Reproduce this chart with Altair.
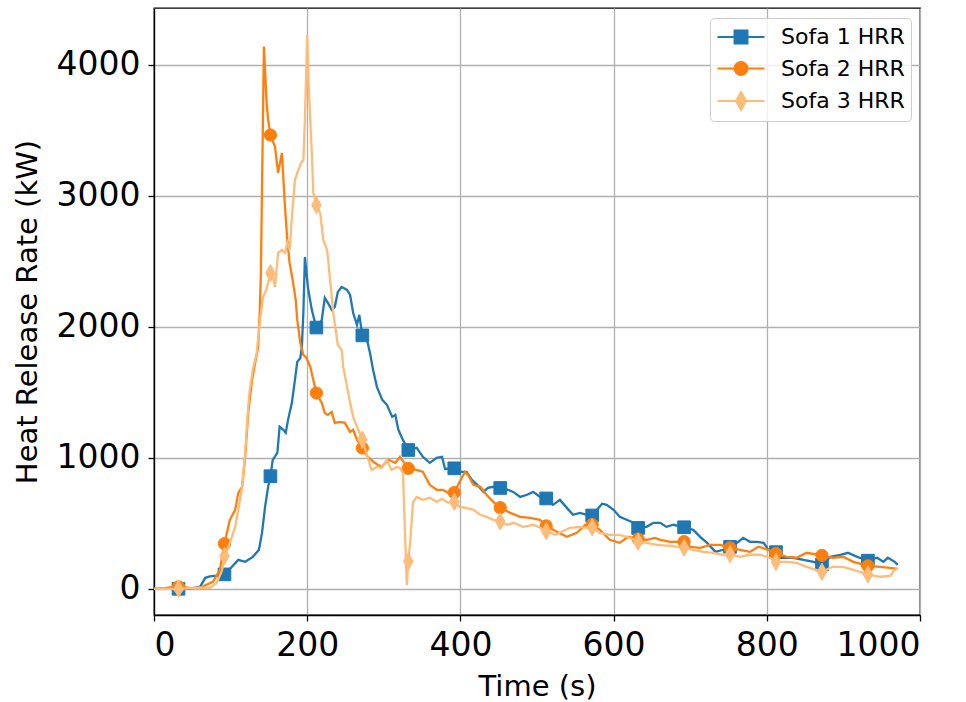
import altair as alt
import pandas as pd

SERIES = ["Sofa 1 HRR", "Sofa 2 HRR", "Sofa 3 HRR"]
COLORS = ["#1f77b4", "#ff7f0e", "#ffbb78"]

# Sofa 1
t1 = [0, 20, 32, 45, 60, 67, 73, 82, 92, 102, 110, 119, 129, 137, 141, 145, 149, 152, 155, 161,
      164, 169, 172, 175, 180, 184, 187, 191, 193, 195, 197, 201, 206, 210, 212, 219, 223, 227,
      232, 236, 240, 245, 252, 256, 260, 265, 268, 272, 278, 282, 286, 291, 298, 304, 311, 315,
      319, 325, 332, 343, 351, 360, 369, 376, 380, 392, 399, 408, 415, 422, 430, 436, 443, 452,
      462, 469, 478, 487, 495, 504, 512, 521, 530, 539, 547, 556, 565, 572, 585, 591, 600, 608,
      617, 626, 632, 643, 652, 661, 669, 678, 692, 704, 713, 722, 733, 743, 752, 763, 769, 778,
      787, 796, 802, 812, 821, 834, 848, 861, 872, 883, 896, 906, 918, 932, 944, 952, 958, 967, 971]
hrr1 = [0, 0, 0, 0, 15, 84, 95, 100, 110, 170, 221, 206, 244, 298, 427, 626, 779, 860, 985, 1038,
        1237, 1214, 1191, 1290, 1420, 1595, 1733, 1763, 1847, 2107, 2534, 2300, 2130, 2038, 1995, 2053, 2221, 2183,
        2130, 2153, 2267, 2305, 2282, 2244, 2107, 2015, 2092, 1935, 1901, 1801, 1672, 1542, 1443, 1405, 1313, 1328,
        1214, 1137, 1060, 1076, 1008, 962, 1000, 1008, 915, 920, 893, 893, 832, 794, 740, 771, 779, 770,
        756, 740, 702, 718, 740, 702, 690, 641, 679, 618, 565, 580, 565, 560, 650, 641, 603, 550,
        527, 504, 465, 473, 504, 504, 473, 489, 470, 450, 397, 351, 282, 298, 320, 359, 389, 359,
        359, 351, 298, 280, 237, 237, 221, 206, 185, 244, 260, 275, 244, 215, 237, 206, 237, 206, 183]

# Sofa 2
t2 = [0, 15, 25, 32, 40, 50, 60, 64, 77, 86, 92, 99, 106, 110, 115, 119, 123, 128, 132, 136,
      138, 139.5, 143.5, 147, 149, 152, 158, 162, 167, 169, 171, 174, 177, 181, 185, 187, 191, 195,
      199, 204, 208, 212, 219, 223, 227, 232, 236, 243, 249, 256, 260, 265, 272, 279, 288, 297,
      306, 315, 321, 332, 343, 351, 360, 369, 377, 384, 392, 399, 406, 410, 417, 426, 434, 443,
      452, 465, 478, 491, 504, 512, 526, 539, 552, 563, 572, 582, 595, 608, 619, 632, 643, 654,
      661, 674, 692, 700, 713, 726, 739, 752, 765, 778, 789, 802, 812, 826, 839, 852, 872, 886,
      900, 913, 932, 948, 961, 971]
hrr2 = [0, 5, 15, 15, 10, 5, 8, 20, 53, 145, 345, 527, 603, 733, 779, 1008, 1343, 1595, 1725, 1847,
        2107, 2400, 4140, 3710, 3580, 3465, 3374, 3176, 3328, 3122, 2916, 2664, 2489, 2359, 2206, 2053, 1878, 1786,
        1763, 1695, 1595, 1495, 1420, 1343, 1328, 1351, 1267, 1275, 1267, 1198, 1214, 1137, 1075, 1008, 962, 931,
        985, 962, 1008, 920, 908, 893, 794, 756, 756, 733, 735, 817, 893, 870, 794, 779, 718, 664,
        620, 580, 550, 542, 527, 480, 435, 397, 427, 489, 490, 450, 374, 351, 397, 380, 374, 389,
        374, 359, 360, 321, 313, 336, 336, 313, 298, 282, 321, 298, 270, 244, 237, 275, 255, 237,
        244, 206, 175, 168, 160, 153]

# Sofa 3
t3 = [0, 32, 60, 73, 82, 89, 92, 99, 106, 110, 115, 119, 123, 125, 129, 134, 138, 142, 147, 152,
      155, 158, 162, 167, 171, 174, 177, 181, 184, 187, 192, 195, 197, 200, 202, 206, 208, 212,
      217, 221, 226, 229, 232, 234, 240, 245, 247, 252, 256, 260, 265, 272, 276, 280, 284, 291,
      297, 304, 310, 317, 321, 325, 330, 332, 335, 338, 343, 351, 360, 369, 376, 384, 392, 399,
      408, 417, 426, 434, 443, 452, 461, 469, 482, 495, 504, 512, 524, 532, 543, 556, 565, 572,
      582, 595, 608, 621, 632, 643, 656, 674, 692, 704, 717, 730, 743, 752, 765, 778, 791, 804,
      812, 826, 839, 852, 872, 886, 900, 913, 932, 948, 961, 967, 971]
hrr3 = [0, 0, 8, 8, 46, 145, 250, 351, 473, 603, 779, 1038, 1389, 1519, 1672, 1801, 2031, 2220, 2290, 2410,
        2382, 2305, 2565, 2588, 2565, 2641, 2588, 2916, 3122, 3176, 3252, 3275, 3580, 4229, 3832, 3328, 3023, 2930,
        2870, 2664, 2588, 2412, 2229, 2107, 1862, 1824, 1695, 1542, 1420, 1313, 1237, 1140, 1061, 985, 908, 931,
        924, 985, 908, 931, 924, 885, 30, 210, 397, 660, 702, 679, 695, 664, 687, 656, 665, 626,
        618, 603, 565, 550, 527, 515, 489, 504, 473, 489, 466, 440, 412, 435, 466, 473, 466, 470,
        427, 412, 412, 389, 360, 351, 336, 328, 315, 298, 282, 275, 260, 265, 244, 260, 260, 237,
        205, 206, 198, 168, 130, 168, 168, 145, 110, 92, 99, 145, 153]

MARK_T = [32, 92, 152, 212, 272, 332, 392, 452, 512, 572, 632, 692, 752, 812, 872, 932]
X_TICKS = [0, 200, 400, 600, 800, 1000]
Y_TICKS = [0, 1000, 2000, 3000, 4000]

MARKERS = ["square", "circle", "M0,-1L0.55,0L0,1L-0.55,0Z"]
MARKER_SIZES = [160, 150, 300]
LEGEND_SHAPES = [
    "M-2,0L2,0M-0.55,-0.55L0.55,-0.55L0.55,0.55L-0.55,0.55Z",
    "M-2,0L2,0M0.55,0A0.55,0.55,0,1,1,-0.55,0A0.55,0.55,0,1,1,0.55,0Z",
    "M-2,0L2,0M0,-0.77L0.43,0L0,0.77L-0.43,0Z",
]

frames = []
for name, ts, vs in zip(SERIES, [t1, t2, t3], [hrr1, hrr2, hrr3]):
    frames.append(pd.DataFrame({"t": ts, "hrr": vs, "series": name}))
df = pd.concat(frames, ignore_index=True)

xscale = alt.Scale(domain=[0, 1000], nice=False)
yscale = alt.Scale(domain=[-200, 4435], nice=False, zero=False)
xaxis = alt.Axis(values=X_TICKS, title="Time (s)", format="d")
yaxis = alt.Axis(values=Y_TICKS, title="Heat Release Rate (kW)", format="d")

layers = []
for name, col, shp, sz in zip(SERIES, COLORS, MARKERS, MARKER_SIZES):
    base = alt.Chart(df).transform_filter(alt.datum.series == name)
    line = base.mark_line(color=col, strokeWidth=2.3).encode(
        x=alt.X("t:Q", scale=xscale, axis=xaxis),
        y=alt.Y("hrr:Q", scale=yscale, axis=yaxis),
        order="t:Q",
    )
    pts = base.transform_filter(
        alt.FieldOneOfPredicate(field="t", oneOf=MARK_T)
    ).mark_point(filled=True, shape=shp, size=sz, color=col, stroke=col,
                 strokeWidth=1, opacity=1).encode(
        x=alt.X("t:Q", scale=xscale),
        y=alt.Y("hrr:Q", scale=yscale),
    )
    layers += [line, pts]

legend_layer = alt.Chart(df).transform_filter("datum.t < -1").mark_point(
    filled=True, opacity=1, strokeWidth=2, size=552
).encode(
    x=alt.X("t:Q", scale=xscale),
    y=alt.Y("hrr:Q", scale=yscale),
    shape=alt.Shape("series:N", scale=alt.Scale(domain=SERIES, range=LEGEND_SHAPES),
                    legend=alt.Legend(title=None)),
    fill=alt.Fill("series:N", scale=alt.Scale(domain=SERIES, range=COLORS),
                  legend=alt.Legend(title=None)),
    stroke=alt.Stroke("series:N", scale=alt.Scale(domain=SERIES, range=COLORS),
                      legend=alt.Legend(title=None)),
)
layers.append(legend_layer)

chart = alt.layer(*layers).properties(
    width=766, height=607,
    autosize=alt.AutoSizeParams(type="none"),
    padding={"left": 154, "top": 8, "right": 46, "bottom": 87},
).configure(
    font="DejaVu Sans",
).configure_view(
    stroke="black", strokeWidth=1.3,
).configure_axis(
    grid=True, gridColor="#b0b0b0", gridWidth=1.3,
    domainColor="black", domainWidth=1.3,
    tickColor="black", tickSize=6, tickWidth=1.3,
    labelFont="DejaVu Sans", labelFontSize=33, labelColor="black", labelPadding=8,
    titleFont="DejaVu Sans", titleFontSize=29, titleFontWeight="normal", titleColor="black",
).configure_axisX(
    titlePadding=10,
).configure_axisY(
    titlePadding=14,
).configure_legend(
    orient="none", legendX=556, legendY=10,
    padding=6, strokeColor="#cccccc", cornerRadius=4, fillColor="rgba(255,255,255,0.8)",
    labelFont="DejaVu Sans", labelFontSize=22, labelColor="black",
    rowPadding=7.5, symbolSize=552, symbolOffset=12, labelOffset=27,
    symbolStrokeWidth=2,
)

chart.save("out.html", embed_options={"renderer": "svg", "actions": False})
